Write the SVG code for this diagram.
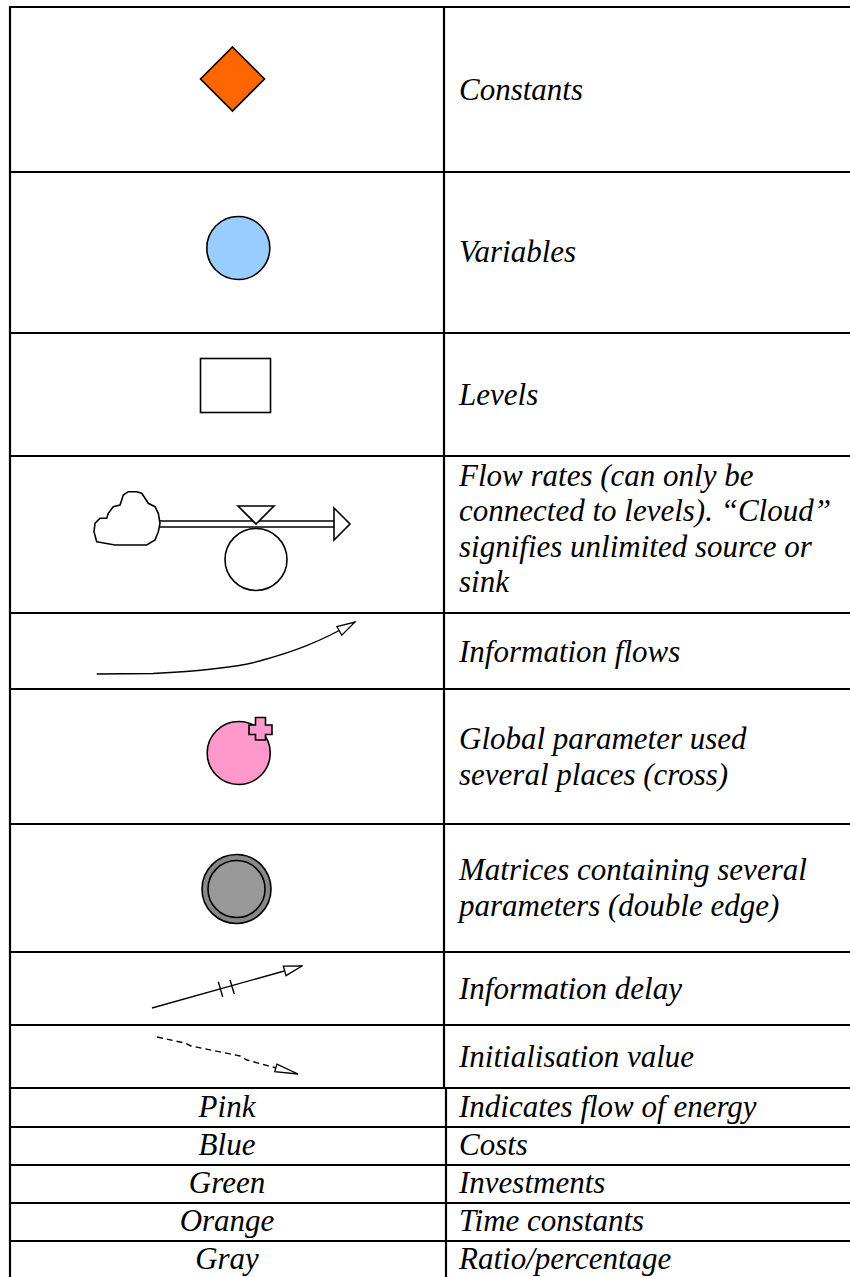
<svg xmlns="http://www.w3.org/2000/svg" width="850" height="1277" viewBox="0 0 850 1277">
<defs>
  <marker id="open" viewBox="0 0 20 12" refX="19" refY="6" markerWidth="20" markerHeight="12" markerUnits="userSpaceOnUse" orient="auto">
    <path d="M1,1 L19,6 L1,11 Z" fill="#fff" stroke="#000" stroke-width="1.3"/>
  </marker>
  <marker id="open2" viewBox="0 0 25 10" refX="24" refY="5" markerWidth="25" markerHeight="10" markerUnits="userSpaceOnUse" orient="auto">
    <path d="M1,1 L24,5 L1,9 Z" fill="#fff" stroke="#000" stroke-width="1.3"/>
  </marker>
</defs>
<rect width="850" height="1277" fill="#fff"/>

<g id="table" stroke="#000" stroke-width="2.2" fill="none">
  <line x1="10" y1="7" x2="850" y2="7"/>
  <line x1="10" y1="6" x2="10" y2="1277"/>
  <line x1="444" y1="7" x2="444" y2="1088"/>
  <line x1="446" y1="1088" x2="446" y2="1277"/>
  <line x1="10" y1="172" x2="850" y2="172"/>
  <line x1="10" y1="333" x2="850" y2="333"/>
  <line x1="10" y1="456" x2="850" y2="456"/>
  <line x1="10" y1="613" x2="850" y2="613"/>
  <line x1="10" y1="689" x2="850" y2="689"/>
  <line x1="10" y1="824" x2="850" y2="824"/>
  <line x1="10" y1="952" x2="850" y2="952"/>
  <line x1="10" y1="1025" x2="850" y2="1025"/>
  <line x1="10" y1="1088" x2="850" y2="1088"/>
  <line x1="10" y1="1127" x2="850" y2="1127"/>
  <line x1="10" y1="1165" x2="850" y2="1165"/>
  <line x1="10" y1="1203" x2="850" y2="1203"/>
  <line x1="10" y1="1241" x2="850" y2="1241"/>
</g>

<g id="constant" stroke="#000" stroke-width="1.6">
  <polygon points="232.5,47 264.5,79 232.5,111 200.5,79" fill="#FF6600"/>
</g>
<g id="variable" stroke="#000" stroke-width="1.6">
  <circle cx="238.3" cy="248" r="31.5" fill="#99CCFF"/>
</g>
<g id="level" stroke="#000" stroke-width="1.6">
  <rect x="200.5" y="358.5" width="70" height="54" fill="#fff"/>
</g>
<g id="flow-rate" stroke="#000" stroke-width="1.6" fill="#fff">
  <path d="M96.7,541.7 L115,545 L146.7,545 L155,540 L158.3,531.7 L160,523.3 L158.3,513.3 L155,506.7 L148.3,503.3 L145,498.3 L141.7,493.3 L136.7,491.7 L128.3,491.7 L123.3,495 L121.7,500 L120,505 L113.3,506.7 L108.3,513.3 L106.7,518.3 L100,518.3 L95,523.3 L94,531.7 Z"/>
  <line x1="160" y1="521" x2="334" y2="521"/>
  <line x1="160" y1="527" x2="334" y2="527"/>
  <polygon points="334,508 350,524 334,540"/>
  <polygon points="238,506 274,506 256,524"/>
  <circle cx="256" cy="559.5" r="31"/>
</g>
<g id="global-parameter" stroke="#000" stroke-width="1.6" fill="#FF99CC">
  <circle cx="238.7" cy="753" r="31.5"/>
  <path d="M255.5,717.5 H265.5 V725 H272 V734.5 H265.5 V740 H255.5 V734.5 H249 V725 H255.5 Z"/>
</g>
<g id="matrix" stroke="#000" stroke-width="1.6">
  <circle cx="236.5" cy="889" r="34.5" fill="#888888"/>
  <circle cx="236.5" cy="889" r="28.5" fill="#999999"/>
</g>

<g id="connectors" stroke="#000" stroke-width="1.4" fill="none">
  <path d="M96.7,674 L153,673.5 C200,671 240,667 263,660 C292,652 318,643 355,622" marker-end="url(#open)"/>
  <g id="delay">
    <line x1="152" y1="1008" x2="302" y2="966" marker-end="url(#open)"/>
    <line x1="218.3" y1="981.7" x2="222.7" y2="996.7"/>
    <line x1="230" y1="980" x2="234.3" y2="994"/>
  </g>
  <path stroke-dasharray="6,4" d="M157,1037 L185,1043 L191,1046 L240,1056 L247,1060 L298,1074" marker-end="url(#open2)"/>
</g>

<g id="labels" font-size="31">
  <text x="459" y="100" font-family="Liberation Serif" font-style="italic">Constants</text>
  <text x="459" y="262" font-family="Liberation Serif" font-style="italic">Variables</text>
  <text x="459" y="405" font-family="Liberation Serif" font-style="italic">Levels</text>
  <text x="459" y="486" font-family="Liberation Serif" font-style="italic">Flow rates (can only be</text>
  <text x="459" y="521" font-family="Liberation Serif" font-style="italic">connected to levels). &#8220;Cloud&#8221;</text>
  <text x="459" y="557" font-family="Liberation Serif" font-style="italic">signifies unlimited source or</text>
  <text x="459" y="592" font-family="Liberation Serif" font-style="italic">sink</text>
  <text x="459" y="662" font-family="Liberation Serif" font-style="italic">Information flows</text>
  <text x="459" y="749" font-family="Liberation Serif" font-style="italic">Global parameter used</text>
  <text x="459" y="785" font-family="Liberation Serif" font-style="italic">several places (cross)</text>
  <text x="459" y="880" font-family="Liberation Serif" font-style="italic">Matrices containing several</text>
  <text x="459" y="916" font-family="Liberation Serif" font-style="italic">parameters (double edge)</text>
  <text x="459" y="999" font-family="Liberation Serif" font-style="italic">Information delay</text>
  <text x="459" y="1067" font-family="Liberation Serif" font-style="italic">Initialisation value</text>
  <text x="227" y="1117" text-anchor="middle" font-family="Liberation Serif" font-style="italic">Pink</text>
  <text x="459" y="1117" font-family="Liberation Serif" font-style="italic">Indicates flow of energy</text>
  <text x="227" y="1155" text-anchor="middle" font-family="Liberation Serif" font-style="italic">Blue</text>
  <text x="459" y="1155" font-family="Liberation Serif" font-style="italic">Costs</text>
  <text x="227" y="1193" text-anchor="middle" font-family="Liberation Serif" font-style="italic">Green</text>
  <text x="459" y="1193" font-family="Liberation Serif" font-style="italic">Investments</text>
  <text x="227" y="1231" text-anchor="middle" font-family="Liberation Serif" font-style="italic">Orange</text>
  <text x="459" y="1231" font-family="Liberation Serif" font-style="italic">Time constants</text>
  <text x="227" y="1269" text-anchor="middle" font-family="Liberation Serif" font-style="italic">Gray</text>
  <text x="459" y="1269" font-family="Liberation Serif" font-style="italic">Ratio/percentage</text>
</g>
</svg>
